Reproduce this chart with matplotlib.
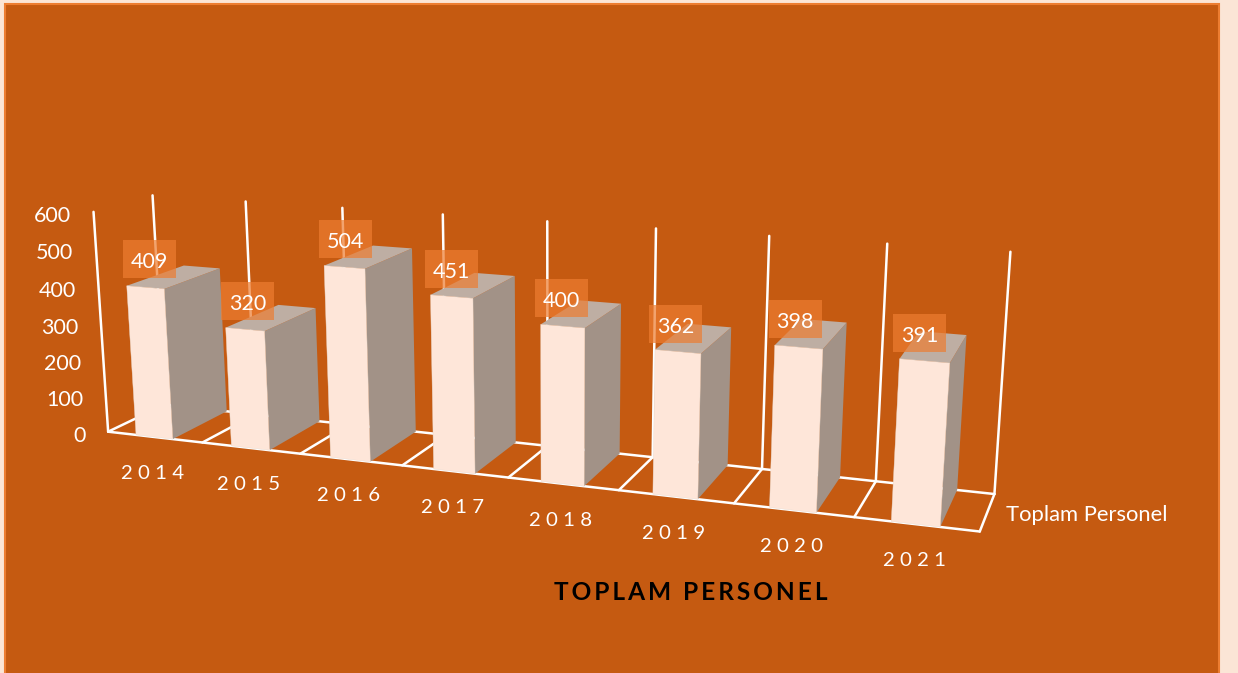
import numpy as np
import matplotlib
matplotlib.use('Agg')
import matplotlib.pyplot as plt
from matplotlib.patches import Polygon, Rectangle

# data
years = ['2014', '2015', '2016', '2017', '2018', '2019', '2020', '2021']
personel = [409, 320, 504, 451, 400, 362, 398, 391]
value_ticks = [0, 100, 200, 300, 400, 500, 600]
series_name = 'Toplam Personel'
title = 'TOPLAM PERSONEL'

# colours
PEACH = '#FBE5D6'
ORANGE = '#C55A11'
BORDER = '#ED7D31'
FRONT = '#FEE6D9'
SIDE = '#A29287'
TOP = '#BEAEA3'
V_MAX = value_ticks[-1]
N = len(years)
BAR_L, BAR_R = 0.30, 0.69

plt.rcParams['font.family'] = ['Lato', 'DejaVu Sans']

# camera: fit a 3x4 projection from (category, value, depth) to picture pixels
# depth 0 = front edge of the floor, depth 1 = back wall
anchors = [
    (0, 0, 0, 107.7, 432.3), (1, 0, 0, 202.7, 442.7), (2, 0, 0, 300, 453),
    (3, 0, 0, 402.7, 465), (4, 0, 0, 509, 476.7), (5, 0, 0, 619, 490),
    (6, 0, 0, 734, 502.7), (7, 0, 0, 855, 516.7), (8, 0, 0, 979, 532.7),
    (5, 0, 1, 651.7, 457), (6, 0, 1, 762.7, 469), (7, 0, 1, 876, 481.7), (8, 0, 1, 994, 495),
    (0, 600, 1, 153, 195), (1, 600, 1, 246, 201.7), (2, 600, 1, 342, 208),
    (3, 600, 1, 443, 214), (4, 600, 1, 547, 221), (5, 600, 1, 656, 228.5),
    (6, 600, 1, 769, 235.7), (7, 600, 1, 888, 243), (8, 600, 1, 1010, 252),
    (0, 600, 0, 93, 213),
]
A, b = [], []
for c, v, d, px, py in anchors:
    w = v / 600
    A.append([c, w, d, 1, 0, 0, 0, 0, -px * c, -px * w, -px * d])
    A.append([0, 0, 0, 0, c, w, d, 1, -py * c, -py * w, -py * d])
    b += [px, py]
p = np.linalg.lstsq(np.array(A), np.array(b), rcond=None)[0]
P = np.append(p, 1.0).reshape(3, 4)


def proj(c, v, d):
    x, y, z = P @ np.array([c, v / 600, d, 1.0])
    return x / z, y / z


def face(ax, pts, color, zorder, edge='none'):
    ax.add_patch(Polygon([proj(*q) for q in pts], closed=True, facecolor=color,
                         edgecolor=edge, lw=0.3, zorder=zorder))


def line3d(ax, a, b, zorder=1):
    xa, ya = proj(*a)
    xb, yb = proj(*b)
    ax.plot([xa, xb], [ya, yb], color='white', lw=1.8, zorder=zorder,
            solid_capstyle='round', solid_joinstyle='round')


fig = plt.figure(figsize=(12.38, 6.73), dpi=100, facecolor=PEACH)
ax = fig.add_axes([0, 0, 1, 1])
ax.set_xlim(0, 1238)
ax.set_ylim(673, 0)
ax.axis('off')

ax.add_patch(Rectangle((5, 4), 1214, 680, facecolor=ORANGE, edgecolor=BORDER, lw=1.5, zorder=0))

# walls and floor
for i in range(N + 1):
    line3d(ax, (i, 0, 1), (i, V_MAX, 1))
    line3d(ax, (i, 0, 0), (i, 0, 1))
line3d(ax, (0, 0, 1), (N, 0, 1))
line3d(ax, (0, 0, 0), (N, 0, 0), zorder=1.5)
line3d(ax, (0, 0, 0), (0, V_MAX, 0))

# bars, left to right so the nearer ones cover the farther ones
for i, v in enumerate(personel):
    L, R = i + BAR_L, i + BAR_R
    z = 2 + i * 0.1
    face(ax, [(R, 0, 0), (R, 0, 1), (R, v, 1), (R, v, 0)], SIDE, z)
    face(ax, [(L, v, 0), (R, v, 0), (R, v, 1), (L, v, 1)], TOP, z)
    face(ax, [(L, 0, 0), (R, 0, 0), (R, v, 0), (L, v, 0)], FRONT, z, edge='#EADBD0')

# value labels
for i, v in enumerate(personel):
    x, y = proj(i + 0.5, v, 0)
    cx = x + 3.5 - 1.3 * i
    cy = y - 28
    ax.add_patch(Rectangle((cx - 26.5, cy - 19), 53, 38, facecolor=BORDER, alpha=0.7,
                           edgecolor='none', zorder=5))
    ax.text(cx, cy + 1, str(v), color='white', fontsize=15.5, ha='center', va='center_baseline', zorder=6)

# value axis
for v in value_ticks:
    x, y = proj(0, v, 0)
    ax.text(x - 22.5, y + 2, str(v), color='white', fontsize=15.5, ha='right',
            va='center_baseline', zorder=6)

# category axis, labels are letter-spaced in the original
for i, yr in enumerate(years):
    x, y = proj(i + 0.5, 0, 0)
    ax.text(x - 2, y + 35, ' '.join(yr), color='white', fontsize=14.7, ha='center',
            va='center_baseline', zorder=6)

x, y = proj(N, 0, 0.5)
ax.text(x + 19, y + 1, series_name, color='white', fontsize=15.8, ha='left',
        va='center_baseline', zorder=6)

ax.text(691, 590, '\u2009'.join(title), color='black', fontsize=17.6, fontweight='bold',
        ha='center', va='center_baseline', zorder=6)

fig.savefig('out.png', dpi=100, facecolor=PEACH)
